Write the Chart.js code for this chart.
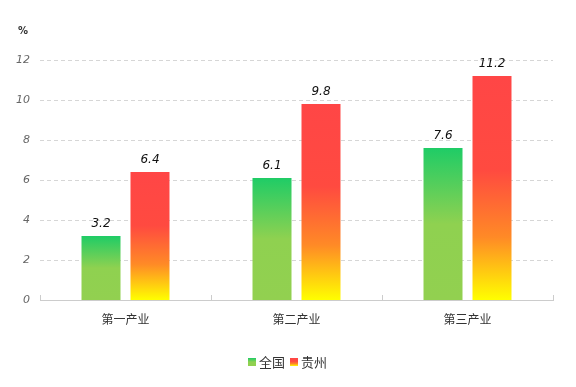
<!DOCTYPE html>
<html>
<head>
<meta charset="utf-8">
<script src="https://cdn.jsdelivr.net/npm/chart.js@4/dist/chart.umd.min.js"></script>
<style>
  html, body { margin: 0; padding: 0; background: #fff; }
  #wrap { width: 576px; height: 387px; }
</style>
</head>
<body>
<div id="wrap"><canvas id="grafico"></canvas></div>
<script>
const categorias = ["第一产业", "第二产业", "第三产业"];
const quanguo = [3.2, 6.1, 7.6];
const guizhou = [6.4, 9.8, 11.2];
const series = ["全国", "贵州"];
const yTicks = [0, 2, 4, 6, 8, 10, 12];

// gradient per bar, from top of bar to the zero line
function gradiente(stops) {
  return (ctx) => {
    const chart = ctx.chart;
    const y = chart.scales && chart.scales.y;
    if (!y || ctx.raw == null) return stops[0][1];
    const top = y.getPixelForValue(ctx.raw);
    const base = y.getPixelForValue(0);
    if (!isFinite(top) || !isFinite(base) || top === base) return stops[0][1];
    const g = chart.ctx.createLinearGradient(0, top, 0, base);
    stops.forEach(s => g.addColorStop(s[0], s[1]));
    return g;
  };
}
const verde = [[0, "#1fcc66"], [0.5, "#8fd150"], [1, "#92d050"]];
const vermelho = [[0, "#ff4646"], [0.42, "#ff4a40"], [0.72, "#ff8a26"], [1, "#ffff00"]];

const extras = {
  id: "extras",
  afterDatasetsDraw(chart) {
    const ctx = chart.ctx;
    const area = chart.chartArea;
    ctx.save();
    // value labels
    ctx.font = "italic 12px 'DejaVu Sans', Verdana, sans-serif";
    ctx.fillStyle = "#111";
    ctx.textAlign = "center";
    ctx.textBaseline = "alphabetic";
    chart.data.datasets.forEach((ds, i) => {
      chart.getDatasetMeta(i).data.forEach((bar, j) => {
        ctx.fillText(String(ds.data[j]), bar.x, bar.y - 9);
      });
    });
    // small ticks on x axis
    ctx.strokeStyle = "#cccccc";
    ctx.lineWidth = 1;
    const n = categorias.length;
    const w = (area.right - area.left) / n;
    for (let k = 0; k <= n; k++) {
      const x = Math.round(area.left + k * w) + 0.5;
      ctx.beginPath();
      ctx.moveTo(x, area.bottom);
      ctx.lineTo(x, area.bottom - 5);
      ctx.stroke();
    }
    // unit
    ctx.font = "bold 10px 'DejaVu Sans', sans-serif";
    ctx.fillStyle = "#333";
    ctx.textAlign = "left";
    ctx.fillText("%", 18, 34);
    // legend
    const legY = 362;
    const itens = [
      { t: series[0], s: verde },
      { t: series[1], s: vermelho }
    ];
    ctx.font = "13px 'Noto Sans CJK SC', sans-serif";
    ctx.textBaseline = "middle";
    let larg = 0;
    itens.forEach(it => { larg += 10 + ctx.measureText(it.t).width + 5; });
    let x = chart.width / 2 - larg / 2 + 1;
    itens.forEach(it => {
      const g = ctx.createLinearGradient(0, legY - 4, 0, legY + 4);
      it.s.forEach(s => g.addColorStop(s[0], s[1]));
      ctx.fillStyle = g;
      ctx.fillRect(x, legY - 4, 8, 8);
      x += 11;
      ctx.fillStyle = "#333";
      ctx.fillText(it.t, x, legY);
      x += ctx.measureText(it.t).width + 5;
    });
    ctx.restore();
  }
};

const ctx = document.getElementById("grafico").getContext("2d");
let myChart = new Chart(ctx, {
  type: "bar",
  data: {
    labels: categorias,
    datasets: [
      { label: series[0], data: quanguo, backgroundColor: gradiente(verde) },
      { label: series[1], data: guizhou, backgroundColor: gradiente(vermelho) }
    ]
  },
  plugins: [extras],
  options: {
    responsive: true,
    maintainAspectRatio: false,
    animation: false,
    categoryPercentage: 0.573,
    barPercentage: 0.796,
    elements: { bar: { borderWidth: 0, inflateAmount: 0 } },
    layout: { padding: { top: 60, right: 23, left: 0, bottom: 0 } },
    plugins: {
      legend: { display: false },
      tooltip: { enabled: false }
    },
    scales: {
      x: {
        afterFit: (s) => { s.height = 87; },
        grid: { display: false },
        border: { color: "#cccccc" },
        ticks: {
          color: "#333",
          padding: 4,
          font: { family: "'Noto Sans CJK SC', sans-serif", size: 12 }
        }
      },
      y: {
        min: 0,
        max: 12,
        afterFit: (s) => { s.width = 40; },
        afterBuildTicks: (s) => { s.ticks = yTicks.map(v => ({ value: v })); },
        border: { display: false, dash: [4, 3] },
        grid: { color: "#d6d6d6", drawTicks: false, lineWidth: (c) => c.tick.value === 0 ? 0 : 1 },
        ticks: {
          color: "#666",
          padding: 10,
          font: { family: "'DejaVu Sans', Verdana, sans-serif", size: 11, style: "italic" }
        }
      }
    }
  }
});
</script>
</body>
</html>
